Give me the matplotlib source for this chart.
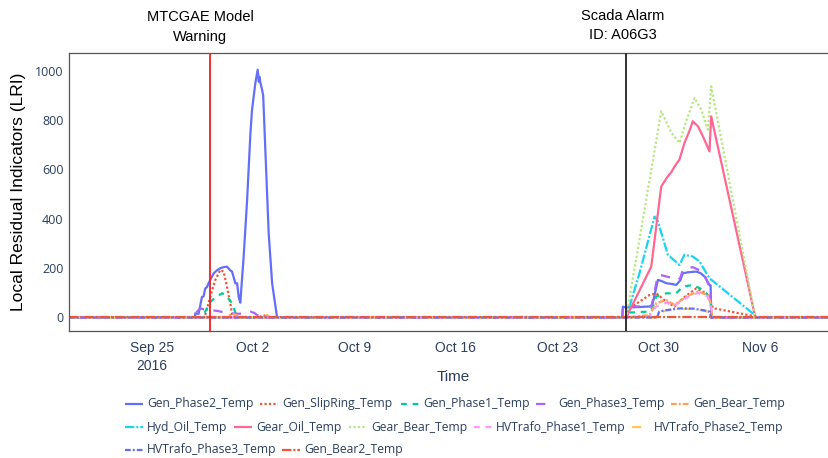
import matplotlib
matplotlib.use("Agg")
import matplotlib.pyplot as plt
from matplotlib.lines import Line2D
import pandas as pd

# ---- data -------------------------------------------------------------
BASE = pd.Timestamp("2016-09-25")
WINDOW = (-5.71, 46.89)          # days relative to BASE covered by the record
WARNING_DAY = 4.05               # model warning
ALARM_DAY = 32.77                # SCADA alarm A06G3

series_names = [
    "Gen_Phase2_Temp", "Gen_SlipRing_Temp", "Gen_Phase1_Temp", "Gen_Phase3_Temp",
    "Gen_Bear_Temp", "Hyd_Oil_Temp", "Gear_Oil_Temp", "Gear_Bear_Temp",
    "HVTrafo_Phase1_Temp", "HVTrafo_Phase2_Temp", "HVTrafo_Phase3_Temp", "Gen_Bear2_Temp",
]

# (day offset, LRI) points where each indicator leaves zero
gen_phase2_days = [3.0, 3.01, 3.24, 3.47, 3.58, 3.70, 3.82, 3.93, 4.28, 4.51, 4.74, 4.97, 5.20, 5.43,
                   5.55, 5.78, 5.90, 6.01, 6.12, 6.35, 6.59, 6.82, 6.93, 7.16, 7.32, 7.40, 7.45, 7.51,
                   7.60, 7.70, 7.85, 8.08, 8.32, 8.66,
                   32.50, 32.54, 32.77, 33.50, 34.50, 34.61, 34.96, 35.20, 35.54, 35.90, 36.22, 36.50,
                   36.68, 37.00, 37.60, 37.90, 38.18, 38.52, 38.60, 38.64]
gen_phase2_vals = [0, 17, 15, 83, 85, 118, 123, 139, 179, 191, 200, 204, 206, 191,
                   186, 138, 139, 83, 60, 245, 476, 748, 841, 950, 1004, 955, 975, 950,
                   930, 900, 678, 341, 138, 0,
                   0, 44, 40, 42, 45, 60, 152, 148, 139, 136, 132, 150,
                   179, 183, 186, 180, 166, 132, 130, 0]

gen_slipring_days = [3.60, 3.70, 4.05, 4.39, 4.74, 4.97, 5.20, 5.43, 5.55, 5.70, 7.40, 7.72, 8.00,
                     32.77, 32.99, 34.38, 34.84, 35.54, 36.11, 36.68, 37.60, 38.29, 38.64, 38.76,
                     41.65, 41.70]
gen_slipring_vals = [0, 10, 85, 152, 193, 186, 125, 58, 10, 0, 0, 10, 0,
                     0, 37, 91, 98, 64, 44, 78, 118, 98, 58, 38,
                     5, 0]

gen_phase1_days = [3.50, 3.58, 4.05, 4.51, 4.86, 5.00, 5.20, 5.55, 5.78, 5.90,
                   32.70, 32.77, 33.00, 34.38, 34.60, 34.84, 35.54, 36.22, 36.68, 37.37, 38.07,
                   38.52, 38.62, 38.64]
gen_phase1_vals = [0, 10, 64, 85, 98, 95, 85, 58, 20, 0,
                   0, 5, 20, 24, 40, 85, 98, 98, 125, 132, 112,
                   85, 80, 0]

gen_phase3_days = [2.90, 3.13, 3.36, 3.60, 4.05, 4.50, 4.74, 5.20, 5.43, 6.00, 6.47, 6.82, 7.10,
                   7.28, 7.60,
                   32.50, 32.54, 32.77, 34.50, 34.61, 34.96, 35.30, 35.76, 36.34, 36.50, 36.68,
                   37.00, 37.37, 37.70, 38.07, 38.52, 38.60, 38.64]
gen_phase3_vals = [0, 24, 37, 33, 30, 27, 24, 20, 17, 15, 17, 24, 18,
                   10, 0,
                   0, 44, 44, 46, 70, 173, 170, 163, 152, 160, 193,
                   200, 204, 195, 186, 125, 120, 0]

gen_bear_days = [5.20, 5.50, 5.90, 6.20, 7.60, 7.90, 8.20,
                 32.77, 34.38, 34.84, 35.54, 36.11, 36.91, 37.72, 38.41, 38.64, 38.70]
gen_bear_vals = [0, 15, 10, 0, 0, 12, 0,
                 0, 10, 58, 71, 51, 85, 105, 91, 50, 0]

hyd_oil_days = [32.70, 32.77, 33.69, 34.73, 34.96, 35.65, 36.45, 36.79, 37.37, 37.83, 38.52,
                41.65, 41.70]
hyd_oil_vals = [0, 0, 180, 409, 389, 254, 213, 254, 247, 227, 159,
                10, 0]

gear_oil_days = [32.77, 34.50, 35.19, 35.65, 35.90, 36.11, 36.45, 36.79, 37.10, 37.37, 37.72,
                 38.07, 38.52, 38.64, 41.65, 41.70]
gear_oil_vals = [0, 206, 531, 572, 590, 612, 640, 707, 750, 795, 775,
                 734, 673, 815, 10, 0]

gear_bear_days = [32.77, 35.19, 35.40, 35.90, 36.45, 36.91, 37.49, 37.95, 38.41, 38.64,
                  41.65, 41.70]
gear_bear_vals = [0, 836, 810, 748, 707, 795, 890, 842, 761, 937,
                  10, 0]

hv_phase1_days = [32.77, 34.38, 34.84, 35.54, 36.11, 36.91, 37.72, 38.41, 38.64, 38.70]
hv_phase1_vals = [0, 5, 45, 60, 48, 80, 100, 85, 40, 0]

hv_phase2_days = [34.90, 35.05, 35.54, 36.50, 37.37, 38.07, 38.52, 38.64]
hv_phase2_vals = [0, 22, 28, 35, 34, 28, 22, 0]

hv_phase3_days = [34.90, 35.05, 35.54, 36.50, 37.37, 38.07, 38.52, 38.64]
hv_phase3_vals = [0, 24, 30, 37, 36, 30, 24, 0]

gen_bear2_days = []
gen_bear2_vals = []

series_days = [gen_phase2_days, gen_slipring_days, gen_phase1_days, gen_phase3_days,
               gen_bear_days, hyd_oil_days, gear_oil_days, gear_bear_days,
               hv_phase1_days, hv_phase2_days, hv_phase3_days, gen_bear2_days]
series_vals = [gen_phase2_vals, gen_slipring_vals, gen_phase1_vals, gen_phase3_vals,
               gen_bear_vals, hyd_oil_vals, gear_oil_vals, gear_bear_vals,
               hv_phase1_vals, hv_phase2_vals, hv_phase3_vals, gen_bear2_vals]

tick_days = [0, 7, 14, 21, 28, 35, 42]
tick_labels = ["Sep 25\n2016", "Oct 2", "Oct 9", "Oct 16", "Oct 23", "Oct 30", "Nov 6"]
y_ticks = [0, 200, 400, 600, 800, 1000]

# ---- styling ----------------------------------------------------------
colors = ["#636EFA", "#EF553B", "#00CC96", "#AB63FA", "#FFA15A", "#19D3F3",
          "#FF6692", "#B6E880", "#FF97FF", "#FECB52", "#636EFA", "#EF553B"]
dash_cycle = {
    "solid": (0, ()),
    "dot": (0, (1.0, 1.0)),
    "dash": (0, (2.6, 2.6)),
    "longdash": (0, (4.2, 4.2)),
    "dashdot": (0, (2.6, 0.9, 0.9, 0.9)),
    "longdashdot": (0, (4.2, 0.9, 0.9, 0.9)),
}
dash_order = ["solid", "dot", "dash", "longdash", "dashdot", "longdashdot"]
styles = [dash_cycle[dash_order[i % 6]] for i in range(len(series_names))]

TICK_COLOR = "#2a3f5f"
NARROW = ["Liberation Sans Narrow", "Liberation Sans", "DejaVu Sans"]
LW = 1.6

W, H = 829, 458
fig = plt.figure(figsize=(W / 100, H / 100), dpi=100)
fig.patch.set_facecolor("white")


def fx(px):
    return px / W


def fy(py):
    return 1 - py / H


ax = fig.add_axes([fx(69), fy(331), fx(829 - 69) + 0.002, fy(53) - fy(331)])


def to_time(days):
    return BASE + pd.to_timedelta(pd.Series(days, dtype=float), unit="D")


for name, d, v, c, ls in zip(series_names, series_days, series_vals, colors, styles):
    days = [WINDOW[0]] + list(d) + [WINDOW[1]]
    vals = [0] + list(v) + [0]
    ax.plot(to_time(days), vals, color=c, linestyle=ls, lw=LW, label=name,
            solid_capstyle="butt", dash_capstyle="butt")

ax.axvline(to_time([WARNING_DAY])[0], color="#f02020", lw=1.3, zorder=5)
ax.axvline(to_time([ALARM_DAY])[0], color="#222222", lw=1.3, zorder=5)

ax.set_xlim(to_time([WINDOW[0]])[0], to_time([WINDOW[1]])[0])
ax.set_ylim(-54.7, 1071.7)

ax.set_xticks(to_time(tick_days))
ax.set_xticklabels(tick_labels, fontsize=10, color=TICK_COLOR, family=NARROW,
                   linespacing=1.35)
ax.set_yticks(y_ticks)
ax.set_yticklabels([str(t) for t in y_ticks], fontsize=9, color=TICK_COLOR,
                   family=["Open Sans", "DejaVu Sans"])
ax.tick_params(axis="both", length=0, pad=4)
ax.tick_params(axis="x", pad=7)

for s in ax.spines.values():
    s.set_color("#555555")
    s.set_linewidth(0.9)

fig.text(fx(19), fy(192), "Local Residual Indicators (LRI)", rotation=90,
         ha="center", va="center", fontsize=12.5, family=["Liberation Sans", "DejaVu Sans"])

fig.text(fx(453), fy(377), "Time", ha="center", va="center", fontsize=11,
         color=TICK_COLOR, family=NARROW)

# event annotations above the plot
fig.text(fx(200), fy(17), "MTCGAE Model", ha="center", va="center", fontsize=10.5, family=NARROW)
fig.text(fx(200), fy(37), "Warning", ha="center", va="center", fontsize=10.5, family=NARROW)
fig.text(fx(623), fy(16), "Scada Alarm", ha="center", va="center", fontsize=10.5, family=NARROW)
fig.text(fx(623), fy(35), "ID: A06G3", ha="center", va="center", fontsize=10.5, family=NARROW)

# horizontal legend laid out in rows
legend_rows = [
    ([0, 1, 2, 3, 4], [147, 282, 423, 558, 693], 404),
    ([5, 6, 7, 8, 9], [147, 256, 371, 496, 654], 427),
    ([10, 11], [147, 304], 450),
]
for idxs, xs, yrow in legend_rows:
    for i, tx in zip(idxs, xs):
        fig.add_artist(Line2D([fx(tx - 22), fx(tx - 4)], [fy(yrow), fy(yrow)],
                              transform=fig.transFigure, color=colors[i],
                              linestyle=styles[i], lw=LW))
        fig.text(fx(tx), fy(yrow), series_names[i], ha="left", va="center",
                 fontsize=8.7, color=TICK_COLOR, family=["Open Sans", "DejaVu Sans"])

fig.savefig("out.png", dpi=100, facecolor="white")
